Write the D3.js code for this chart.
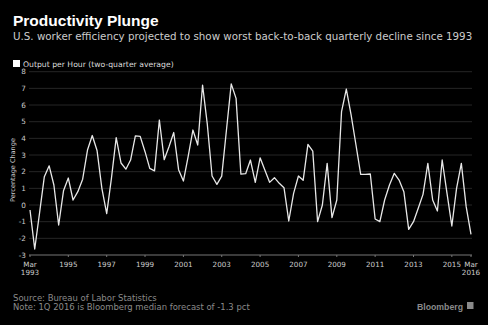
<!DOCTYPE html>
<html>
<head>
<meta charset="utf-8">
<script src="https://cdnjs.cloudflare.com/ajax/libs/d3/7.8.5/d3.min.js"></script>
<style>
  body { margin:0; background:#000; }
  svg text { font-family: "DejaVu Sans", Verdana, sans-serif; }
</style>
</head>
<body>
<div id="canvas"></div>
<script>
// quarterly output per hour, two-quarter average, 1993 Q1 .. 2016 Q1
var values = [
  -0.3, -2.64, -0.5, 1.7, 2.35, 1.2, -1.2, 0.85, 1.62, 0.3, 0.8, 1.55,
  3.3, 4.17, 3.27, 1.0, -0.52, 1.6, 4.04, 2.52, 2.15, 2.7, 4.15, 4.12,
  3.2, 2.2, 2.05, 5.1, 2.72, 3.5, 4.35, 2.12, 1.44, 2.9, 4.5, 3.6,
  7.2, 4.85, 1.74, 1.24, 1.73, 4.5, 7.27, 6.4, 1.85, 1.88, 2.7, 1.36,
  2.83, 2.1, 1.36, 1.64, 1.3, 1.04, -0.96, 0.7, 1.74, 1.48, 3.64, 3.24,
  -1.0, 0.0, 2.5, -0.76, 0.3, 5.6, 6.96, 5.4, 3.6, 1.84, 1.84, 1.86,
  -0.84, -1.0, 0.3, 1.2, 1.9, 1.5, 0.8, -1.46, -1.0, -0.2, 0.64, 2.5,
  0.3, -0.36, 2.7, 0.7, -1.26, 1.0, 2.5, -0.1, -1.76
];
var yTicks = [-3, -2, -1, 0, 1, 2, 3, 4, 5, 6, 7, 8];
var xTickYears = [1995, 1997, 1999, 2001, 2003, 2005, 2007, 2009, 2011, 2013, 2015];

var data = values.map(function(v, i){
  return {date: new Date(1993, i*3, 1), v: v};
});

var W = 488, H = 325;
var svg = d3.select('#canvas').append('svg')
  .attr('width', W).attr('height', H)
  .style('background', '#000');

var x = d3.scaleTime()
  .domain([data[0].date, data[data.length-1].date])
  .range([30, 471]);
var y = d3.scaleLinear().domain([-3, 8]).range([255, 71.7]);

// scale a text's font size so it spans the given width
function fit(t, w){
  var s = parseFloat(t.style('font-size'));
  var l = t.node().getComputedTextLength();
  t.style('font-size', (s * w / l) + 'px');
  return t;
}

// titles
svg.append('text').attr('x', 13).attr('y', 26)
  .style('font-family', '"Liberation Sans", Arial, sans-serif')
  .style('font-size', '15.5px').style('font-weight', 'bold').style('fill', '#fff')
  .text('Productivity Plunge');
fit(svg.append('text').attr('x', 13).attr('y', 40)
  .style('font-size', '10px').style('fill', '#ccc')
  .text('U.S. worker efficiency projected to show worst back-to-back quarterly decline since 1993'), 460);

// legend
svg.append('rect').attr('x', 13).attr('y', 60).attr('width', 7).attr('height', 7).style('fill', '#fff');
fit(svg.append('text').attr('x', 23).attr('y', 66.5)
  .style('font-size', '7px').style('fill', '#ddd')
  .text('Output per Hour (two-quarter average)'), 151);

// grid
svg.append('g').selectAll('line')
  .data(yTicks.filter(function(d){ return d > -3; }))
  .enter().append('line')
  .attr('x1', 29).attr('x2', 472)
  .attr('y1', function(d){ return y(d); }).attr('y2', function(d){ return y(d); })
  .style('stroke', '#262626').style('stroke-width', 1);

// y axis labels
svg.append('g').selectAll('text')
  .data(yTicks).enter().append('text')
  .attr('x', 26).attr('y', function(d){ return y(d) + 2.7; })
  .attr('text-anchor', 'end')
  .style('font-size', '7.3px').style('fill', '#ccc')
  .text(function(d){ return d; });

fit(svg.append('text')
  .attr('transform', 'translate(15,170) rotate(-90)')
  .attr('text-anchor', 'middle')
  .style('font-size', '7px').style('fill', '#ccc')
  .text('Percentage Change'), 64);

// x axis
svg.append('line').attr('x1', 29).attr('x2', 472).attr('y1', y(-3)).attr('y2', y(-3))
  .style('stroke', '#777').style('stroke-width', 1);

var tickDates = xTickYears.map(function(yr){ return new Date(yr, 0, 1); });
svg.append('g').selectAll('line')
  .data([data[0].date].concat(tickDates, [data[data.length-1].date]))
  .enter().append('line')
  .attr('x1', function(d){ return x(d); }).attr('x2', function(d){ return x(d); })
  .attr('y1', y(-3)).attr('y2', y(-3) + 2)
  .style('stroke', '#777');

svg.append('g').selectAll('text')
  .data(tickDates).enter().append('text')
  .attr('x', function(d){ return x(d); }).attr('y', 267)
  .attr('text-anchor', 'middle')
  .style('font-size', '7.2px').style('fill', '#ccc')
  .text(function(d){ return d.getFullYear(); });

[data[0].date, data[data.length-1].date].forEach(function(d){
  var t = svg.append('text').attr('text-anchor', 'middle')
    .style('font-size', '7.2px').style('fill', '#ccc');
  t.append('tspan').attr('x', x(d)).attr('y', 267).text('Mar');
  t.append('tspan').attr('x', x(d)).attr('y', 275).text(d.getFullYear());
});

// line
var line = d3.line()
  .x(function(d){ return x(d.date); })
  .y(function(d){ return y(d.v); });

svg.append('path').datum(data)
  .attr('d', line)
  .style('fill', 'none').style('stroke', '#e8e8e8').style('stroke-width', 1.3)
  .style('stroke-linejoin', 'round');

// footer
fit(svg.append('text').attr('x', 13).attr('y', 300.5)
  .style('font-size', '8px').style('fill', '#8a8a8a')
  .text('Source: Bureau of Labor Statistics'), 144);
fit(svg.append('text').attr('x', 13).attr('y', 310)
  .style('font-size', '8px').style('fill', '#8a8a8a')
  .text('Note: 1Q 2016 is Bloomberg median forecast of -1.3 pct'), 237);

fit(svg.append('text').attr('x', 417).attr('y', 309.5)
  .style('font-family', '"Liberation Sans", Arial, sans-serif')
  .style('font-size', '8.6px').style('font-weight', 'bold').style('fill', '#8a8a8a')
  .text('Bloomberg'), 46);
svg.append('rect').attr('x', 467).attr('y', 302).attr('width', 6.5).attr('height', 7)
  .style('fill', '#8a8a8a');
</script>
</body>
</html>
